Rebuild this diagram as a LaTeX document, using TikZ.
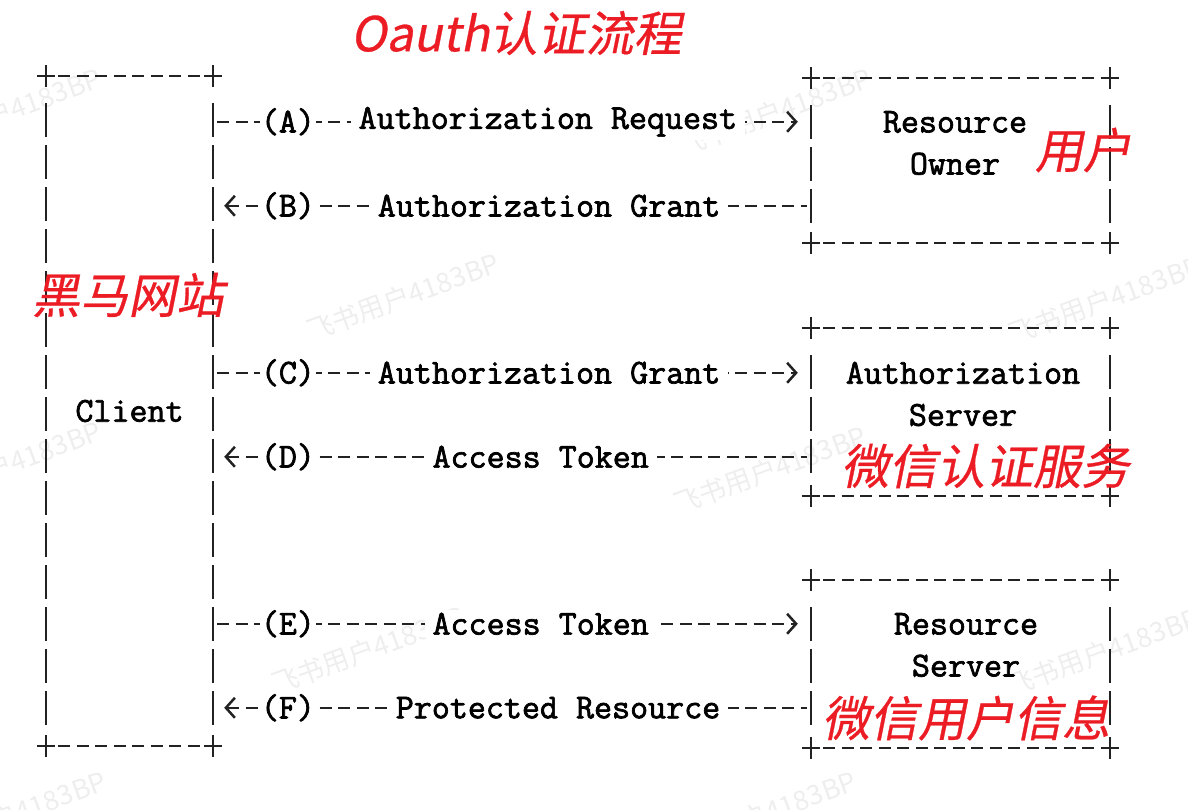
\documentclass[tikz,border=0pt]{standalone}
\usepackage{fontspec}
\usepackage{tikz}
\usetikzlibrary{arrows.meta,positioning}
\setmonofont[FakeBold=2]{Latin Modern Mono}
\newfontfamily\cjk[FakeSlant=0.2,FakeBold=0.6]{Noto Sans CJK SC}
\newfontfamily\wmfont{Noto Sans CJK SC}
\definecolor{ink}{HTML}{222222}
\definecolor{notered}{HTML}{EC1C24}
\definecolor{wmgray}{HTML}{EEEEEE}
\tikzset{
	%Define standard arrow tip
	>={Straight Barb[length=9pt,width=20pt]},
	%Define style for boxes
	frame/.style={
		rectangle,
		inner sep=0pt,
		font=\ttfamily\fontsize{35}{42}\selectfont},
	% dashed sides, drawn like ascii art
	hside/.style={draw=ink, line width=2.5pt, dash pattern=on 12.3pt off 6.2pt, dash phase=6.15pt},
	vside/.style={draw=ink, line width=2.5pt, dash pattern=on 34pt off 8pt},
	% Define arrow style
	msg/.style={
		draw=ink, line width=2.5pt,
		dash pattern=on 12pt off 6.5pt,
		shorten <=4pt,
		shorten >=4pt,},
	% step letter and message text on the arrows
	tag/.style={fill=white, inner xsep=1pt, inner ysep=3pt, font=\ttfamily\fontsize{35}{42}\selectfont},
	says/.style={tag, inner xsep=8pt},
	note/.style={text=notered, font=\cjk\fontsize{48}{48}\selectfont},
	wmtext/.style={text=wmgray, rotate=20, font=\wmfont\fontsize{27}{27}\selectfont}
}
% box border with + corners
\newcommand{\asciiframe}[1]{%
	\draw[hside] (#1.north west) -- (#1.north east);
	\draw[hside] (#1.south west) -- (#1.south east);
	\draw[vside] ([yshift=-27pt]#1.north west) -- ([yshift=20pt]#1.south west);
	\draw[vside] ([yshift=-27pt]#1.north east) -- ([yshift=20pt]#1.south east);
	\foreach \c in {north west,north east,south west,south east}
		\draw[ink, line width=2.5pt] ([xshift=-9pt]#1.\c) -- ([xshift=9pt]#1.\c)
			([yshift=-11pt]#1.\c) -- ([yshift=11pt]#1.\c);
}

\begin{document}
\begin{tikzpicture}[x=1pt, y=-1pt]
		\useasboundingbox (0,0) rectangle (1188,810);
		% watermark in the background
		\begin{scope}
			\clip (0,0) rectangle (1188,810);
			\foreach \x/\y in {5/112, 775/112, 403/297, 1105/300, 5/465, 770/470, 368/650, 1103/652, 10/815, 760/815}
				\node[wmtext] at (\x,\y) {飞书用户4183BP};
		\end{scope}
		%nodes
		\node[frame, minimum width=167pt, minimum height=670pt] (client) at (129.5,411) {Client};
		\node[frame, minimum width=299pt, minimum height=165pt] (owner) at (960.5,160.5) {};
		\node[frame, minimum width=299pt, minimum height=168pt] (auth) at (960.5,412) {};
		\node[frame, minimum width=299pt, minimum height=168pt] (res) at (960.5,664) {};
		\asciiframe{client}
		\asciiframe{owner}
		\asciiframe{auth}
		\asciiframe{res}
		\node[frame, align=center] (ownertxt) at (955,143) {Resource\\Owner};
		\node[frame, align=center] (authtxt) at (963,394) {Authorization\\Server};
		\node[frame, align=center] (restxt) at (966,645) {Resource\\Server};
		% message rows, ends on the server side
		\coordinate (a) at ([yshift=-44pt]owner.north west);
		\coordinate (b) at ([yshift=-128pt]owner.north west);
		\coordinate (c) at ([yshift=-45pt]auth.north west);
		\coordinate (d) at ([yshift=-129pt]auth.north west);
		\coordinate (e) at ([yshift=-44pt]res.north west);
		\coordinate (f) at ([yshift=-128pt]res.north west);
		\draw[msg, ->, shorten >=13pt] (client.east |- a) -- (a)
			node[tag, pos=0.125] {(A)} node[says, pos=0.56] {Authorization Request};
		\draw[msg, <-, shorten <=11pt] (client.east |- b) -- (b)
			node[tag, pos=0.125] {(B)} node[says, pos=0.562] {Authorization Grant};
		\draw[msg, ->, shorten >=13pt] (client.east |- c) -- (c)
			node[tag, pos=0.125] {(C)} node[says, pos=0.562] {Authorization Grant};
		\draw[msg, <-, shorten <=11pt] (client.east |- d) -- (d)
			node[tag, pos=0.125] {(D)} node[says, pos=0.548] {Access Token};
		\draw[msg, ->, shorten >=13pt] (client.east |- e) -- (e)
			node[tag, pos=0.125] {(E)} node[says, pos=0.548] {Access Token};
		\draw[msg, <-, shorten <=11pt] (client.east |- f) -- (f)
			node[tag, pos=0.125] {(F)} node[says, pos=0.577] {Protected Resource};
		% red notes
		\node[note] (title) at (516,33) {Oauth认证流程};
		\node[note] (user) at (1083,150) {用户};
		\node[note] (site) at (128,295) {黑马网站};
		\node[note] (wxauth) at (985,466) {微信认证服务};
		\node[note] (wxinfo) at (966,718) {微信用户信息};
\end{tikzpicture}
\end{document}
